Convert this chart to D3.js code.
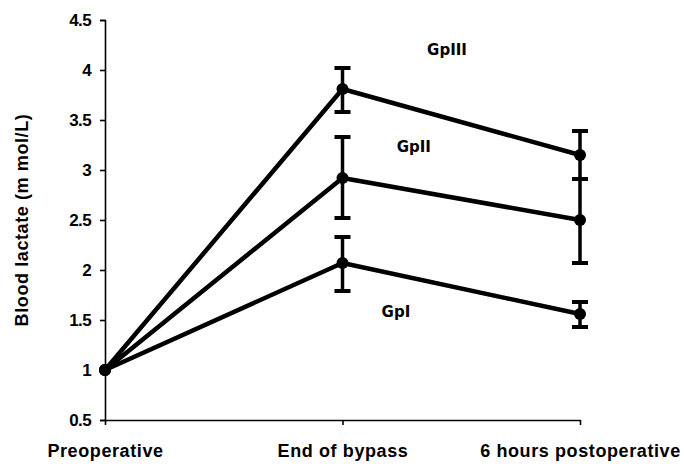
<!DOCTYPE html>
<html>
<head>
<meta charset="utf-8">
<script src="https://cdn.jsdelivr.net/npm/d3@7"></script>
<style>
  body { margin: 0; background: #fff; }
  .chart text { fill: #000; }
</style>
</head>
<body>
<div id="chart"></div>
<script>
const categories = ['Preoperative', 'End of bypass', '6 hours postoperative']
const groups = ['GpI', 'GpII', 'GpIII']
const means = {
  GpI: [1.0, 2.07, 1.56],
  GpII: [1.0, 2.92, 2.5],
  GpIII: [1.0, 3.81, 3.15]
}
const errLow = {
  GpI: [1.0, 1.79, 1.43],
  GpII: [1.0, 2.52, 2.07],
  GpIII: [1.0, 3.58, 2.91]
}
const errHigh = {
  GpI: [1.0, 2.33, 1.68],
  GpII: [1.0, 3.33, 2.91],
  GpIII: [1.0, 4.02, 3.39]
}
const yTicks = [0.5, 1, 1.5, 2, 2.5, 3, 3.5, 4, 4.5]
const labelPos = { GpI: [1.225, 1.58], GpII: [1.3, 3.23], GpIII: [1.44, 4.2] }

const W = 684, H = 466
const margin = { top: 20, right: 104, bottom: 46, left: 105 }
const width = W - margin.left - margin.right
const height = H - margin.top - margin.bottom

const svg = d3.select('#chart').append('svg')
  .attr('class', 'chart')
  .attr('width', W)
  .attr('height', H)

const chart = svg.append('g')
  .attr('transform', `translate(${margin.left},${margin.top})`)

const x = d3.scalePoint().domain(categories).range([0, width])
const xi = d3.scaleLinear().domain([0, 2]).range([0, width])
const y = d3.scaleLinear().domain([0.5, 4.5]).range([height, 0])

const sans = '"Liberation Sans", Arial, sans-serif'

// axes
const yAxis = chart.append('g')
  .call(d3.axisLeft(y).tickValues(yTicks).tickSize(5).tickPadding(9).tickFormat(d3.format('')))
yAxis.select('.domain').attr('stroke-width', 1.6)
yAxis.selectAll('.tick line').attr('stroke-width', 1.6)
yAxis.selectAll('text')
  .attr('font-family', sans).attr('font-weight', 'bold').attr('font-size', 17)
  .attr('letter-spacing', -0.6)

const xAxis = chart.append('g')
  .attr('transform', `translate(0,${height})`)
  .call(d3.axisBottom(x).tickSize(5).tickSizeOuter(0).tickPadding(19))
xAxis.select('.domain').attr('stroke-width', 1.6)
xAxis.selectAll('.tick line').attr('stroke-width', 1.6)
xAxis.selectAll('text')
  .attr('font-family', sans).attr('font-weight', 'bold').attr('font-size', 18)
  .attr('letter-spacing', 0.6)

// y title
svg.append('text')
  .attr('transform', `translate(28,${margin.top + y(2.5)}) rotate(-90)`)
  .attr('text-anchor', 'middle')
  .attr('font-family', sans)
  .attr('font-weight', 'bold')
  .attr('font-size', 18)
  .attr('letter-spacing', 0.6)
  .text('Blood lactate (m mol/L)')

const line = d3.line()
  .x((d, i) => x(categories[i]))
  .y(d => y(d))

groups.forEach(g => {
  chart.append('path')
    .datum(means[g])
    .attr('d', line)
    .attr('fill', 'none')
    .attr('stroke', '#000')
    .attr('stroke-width', 4.5)
    .attr('stroke-linejoin', 'round')

  // error bars
  means[g].forEach((m, i) => {
    if (errHigh[g][i] === errLow[g][i]) return
    const cx = x(categories[i])
    const eb = chart.append('g').attr('stroke', '#000')
    eb.append('line')
      .attr('x1', cx).attr('x2', cx)
      .attr('y1', y(errLow[g][i])).attr('y2', y(errHigh[g][i]))
      .attr('stroke-width', 3.5)
    ;[errLow[g][i], errHigh[g][i]].forEach(v => {
      eb.append('line')
        .attr('x1', cx - 8).attr('x2', cx + 8)
        .attr('y1', y(v)).attr('y2', y(v))
        .attr('stroke-width', 4)
    })
  })

  chart.selectAll(null)
    .data(means[g])
    .enter().append('circle')
    .attr('cx', (d, i) => x(categories[i]))
    .attr('cy', d => y(d))
    .attr('r', 6)
    .attr('fill', '#000')

  chart.append('text')
    .attr('x', xi(labelPos[g][0]))
    .attr('y', y(labelPos[g][1]))
    .attr('text-anchor', 'middle')
    .attr('dy', '0.35em')
    .attr('font-family', '"DejaVu Sans", Verdana, sans-serif')
    .attr('font-weight', 'bold')
    .attr('font-size', 15)
    .text(g)
})
</script>
</body>
</html>
